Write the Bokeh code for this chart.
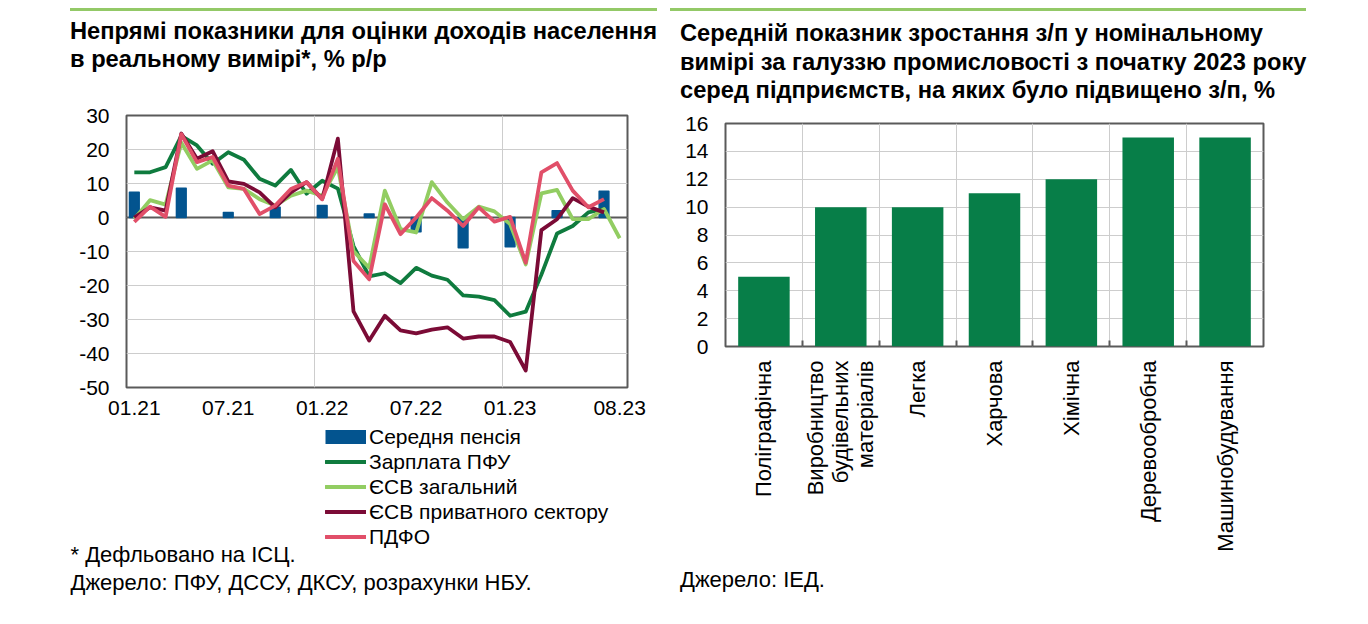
import math
from bokeh.plotting import figure
from bokeh.models import Range1d, FixedTicker, Span, Legend, LegendItem, Div, Label
from bokeh.layouts import row, column
from bokeh.embed import file_html
from bokeh.resources import INLINE

# ---------------- data: left chart ----------------
months = [f"{m:02d}.{y}" for y in (21, 22, 23) for m in range(1, 13)][:32]
tick_labels = ["01.21", "07.21", "01.22", "07.22", "01.23", "08.23"]
year_bounds = ["12.21", "12.22"]  # vertical gridlines after these months
left_y_ticks = [-50, -40, -30, -20, -10, 0, 10, 20, 30]

NaN = float("nan")
pension = [7.4, None, None, 8.6, None, None, 1.5, None, None, 3.0, None, None,
           3.5, None, None, 1.0, None, None, -4.2, None, None, -8.9, None, None,
           -8.6, None, None, 2.0, None, None, 7.7, None]
wage_pfu = [13.3, 13.3, 14.8, 24.0, 21.2, 15.8, 19.2, 17.0, 11.4, 9.4, 14.0, 7.0,
            10.8, 8.5, -8.4, -17.3, -16.4, -19.3, -14.8, -17.1, -18.3, -22.9,
            -23.3, -24.3, -28.9, -27.7, -16.8, -4.7, -2.5, 1.5, 2.5, NaN]
esv_total = [-0.4, 5.1, 3.8, 22.0, 14.3, 16.8, 8.9, 8.4, 5.4, 3.5, 6.4, 7.9,
             6.4, 14.8, -9.9, -14.8, 7.9, -3.4, -4.4, 10.4, 4.4, -0.5,
             3.2, 1.8, -1.9, -13.8, 7.1, 8.1, -0.5, -0.5, 2.5, -6.1]
esv_private = [0.0, 3.0, 2.0, 24.7, 17.3, 19.5, 10.6, 9.9, 7.4, 3.0, 7.4, 10.4,
               5.4, 23.2, -27.6, -36.2, -28.9, -33.2, -34.1, -33.0, -32.3, -35.6,
               -35.0, -35.0, -36.6, -45.0, -3.7, -0.5, 5.7, 3.2, 1.5, NaN]
pdfo = [-1.3, 3.2, 0.2, 24.5, 16.3, 17.8, 9.4, 8.4, 1.0, 3.5, 8.4, 10.4,
        5.4, 17.3, -12.8, -18.2, 3.9, -4.9, 0.0, 5.7, 2.0, -2.5,
        3.0, -1.2, 0.2, -13.3, 13.3, 16.0, 7.9, 3.0, 5.4, NaN]
series_names = ["Середня пенсія", "Зарплата ПФУ", "ЄСВ загальний",
                "ЄСВ приватного сектору", "ПДФО"]

# ---------------- data: right chart ----------------
industries = ["Поліграфічна", "Виробництво\nбудівельних\nматеріалів", "Легка",
              "Харчова", "Хімічна", "Деревообробна", "Машинобудування"]
wage_growth = [5, 10, 10, 11, 12, 15, 15]
right_y_ticks = [0, 2, 4, 6, 8, 10, 12, 14, 16]

# ---------------- texts ----------------
left_title = ["Непрямі показники для оцінки доходів населення", "в реальному вимірі*, % р/р"]
right_title = ["Середній показник зростання з/п у номінальному",
               "вимірі за галуззю промисловості з початку 2023 року",
               "серед підприємств, на яких було підвищено з/п, %"]
left_notes = ["* Дефльовано на ІСЦ.", "Джерело: ПФУ, ДССУ, ДКСУ, розрахунки НБУ."]
right_note = "Джерело: ІЕД."

# ---------------- styles ----------------
FONT = "Liberation Sans"
BLUE = "#03548f"
DGREEN = "#0f7b3e"
LGREEN = "#92cd62"
MAROON = "#7b0b36"
PINK = "#e14f69"
BARGREEN = "#077e48"
RULE = "#93c967"
FRAME = "#5a5a5a"
GRID = "#cdcdcd"
TXT = "21px"
NOTE = "22px"
LW = 3.8


def style_axes(p):
    for ax in (p.xaxis[0], p.yaxis[0]):
        ax.axis_line_color = None
        ax.major_tick_line_color = None
        ax.minor_tick_line_color = None
        ax.major_tick_out = 0
        ax.major_tick_in = 0
        ax.minor_tick_out = 0
        ax.minor_tick_in = 0
        ax.major_label_text_font = FONT
        ax.major_label_text_font_size = TXT
        ax.major_label_text_color = "#000000"
    p.outline_line_color = FRAME
    p.outline_line_width = 2
    p.xgrid.grid_line_color = GRID
    p.ygrid.grid_line_color = GRID


def title_div(lines, width, height, left_margin, pad, line_h, indent):
    html = ('<div style="padding-top:8px;">'
            f'<div style="border-top:3px solid {RULE};padding-top:{pad}px;padding-left:{indent}px;'
            f"font-family:'{FONT}';font-weight:bold;font-size:23.7px;line-height:{line_h}px;"
            'color:#000;white-space:nowrap;">' + "<br>".join(lines) + "</div></div>")
    return Div(text=html, width=width, height=height, margin=(0, 0, 0, left_margin))


# ---------------- left chart ----------------
p1 = figure(frame_width=501, frame_height=272, x_range=Range1d(-0.5, 31.5), y_range=Range1d(-50, 30),
            output_backend="svg", toolbar_location=None, title=None, frame_align=False,
            min_border_left=126, min_border_right=43, min_border_top=11, min_border_bottom=37)
style_axes(p1)
tick_idx = [months.index(t) for t in tick_labels]
p1.xaxis.ticker = FixedTicker(ticks=tick_idx)
p1.xaxis.major_label_overrides = {i: t for i, t in zip(tick_idx, tick_labels)}
p1.xaxis.major_label_standoff = 13
p1.yaxis.ticker = FixedTicker(ticks=left_y_ticks)
p1.yaxis.major_label_overrides = {v: str(v) for v in left_y_ticks}
p1.yaxis.major_label_standoff = 17
p1.xgrid.ticker = FixedTicker(ticks=[months.index(b) + 0.5 for b in year_bounds])
p1.add_layout(Span(location=0, dimension="width", line_color=FRAME, line_width=2, level="underlay"))

px = [i for i, v in enumerate(pension) if v is not None]
pv = [v for v in pension if v is not None]
p1.vbar(x=px, top=pv, bottom=0, width=0.62, fill_color=BLUE, line_color=BLUE, line_width=1.5,
        line_join="round")
xs = list(range(len(months)))
line_series = [(wage_pfu, DGREEN), (esv_total, LGREEN), (esv_private, MAROON), (pdfo, PINK)]
for ys, col in line_series:
    p1.line(xs, ys, line_color=col, line_width=LW, line_join="round")

# ---------------- legend + notes (below the left chart) ----------------
LEG_W, LEG_H = 670, 197
p_leg = figure(frame_width=LEG_W, frame_height=LEG_H, x_range=Range1d(0, LEG_W), y_range=Range1d(0, LEG_H),
               output_backend="svg", toolbar_location=None, title=None, frame_align=False,
               min_border=0, x_axis_location=None, y_axis_location=None)
p_leg.outline_line_color = None
p_leg.grid.visible = False
# legend keys: one-point NaN sources, so nothing is drawn in the frame
keys = [p_leg.line(x=[NaN], y=[NaN], line_color=BLUE, line_width=14)]
keys += [p_leg.line(x=[NaN], y=[NaN], line_color=col, line_width=LW, line_cap="round")
         for _, col in line_series]
legend = Legend(items=[LegendItem(label=n, renderers=[r]) for n, r in zip(series_names, keys)],
                location=(325, LEG_H - 125), orientation="vertical", padding=0, margin=0, spacing=0,
                glyph_width=41, glyph_height=25, label_height=25, label_standoff=3,
                border_line_color=None, background_fill_alpha=0,
                label_text_font=FONT, label_text_font_size=TXT, label_text_color="#000000")
p_leg.add_layout(legend)
for k, note in enumerate(left_notes):
    p_leg.add_layout(Label(x=70, y=67 - 28 * k, text=note, text_font=FONT, text_font_size=NOTE,
                           text_baseline="middle", text_align="left", text_color="#000000"))

# ---------------- right chart ----------------
p2 = figure(frame_width=538, frame_height=223, x_range=Range1d(-0.5, len(industries) - 0.5),
            y_range=Range1d(0, 16),
            output_backend="svg", toolbar_location=None, title=None, frame_align=False,
            min_border_left=55, min_border_right=103, min_border_top=11, min_border_bottom=215)
style_axes(p2)
cx = list(range(len(industries)))
bounds = [i + 0.5 for i in cx[:-1]]
p2.vbar(x=cx, top=wage_growth, bottom=0, width=0.67, fill_color=BARGREEN, line_color=None)
p2.xaxis.ticker = FixedTicker(ticks=cx, minor_ticks=bounds)
p2.xaxis.major_label_overrides = {i: n for i, n in zip(cx, industries)}
p2.xaxis.major_label_orientation = math.pi / 2
p2.xaxis.major_label_standoff = 14
p2.xaxis.major_label_text_font_size = NOTE
p2.xaxis.major_label_text_line_height = 1.0
p2.xaxis.minor_tick_in = 6
p2.xaxis.minor_tick_line_color = FRAME
p2.xaxis.minor_tick_line_width = 2
p2.yaxis.ticker = FixedTicker(ticks=right_y_ticks)
p2.yaxis.major_label_standoff = 17
p2.xgrid.ticker = FixedTicker(ticks=bounds)

note_div = Div(text=(f"<div style=\"padding-top:5px;font-family:'{FONT}';font-size:{NOTE};"
                     f"line-height:28px;color:#000;white-space:nowrap;\">{right_note}</div>"),
               width=400, height=61, margin=(0, 0, 0, 10))

left_col = column(title_div(left_title, 600, 104, 70, 6, 28, 0), p1, p_leg)
right_col = column(title_div(right_title, 693, 112, 0, 8, 28.5, 10), p2, note_div)
page = row(left_col, right_col)
open("out.html", "w").write(file_html(page, INLINE))
